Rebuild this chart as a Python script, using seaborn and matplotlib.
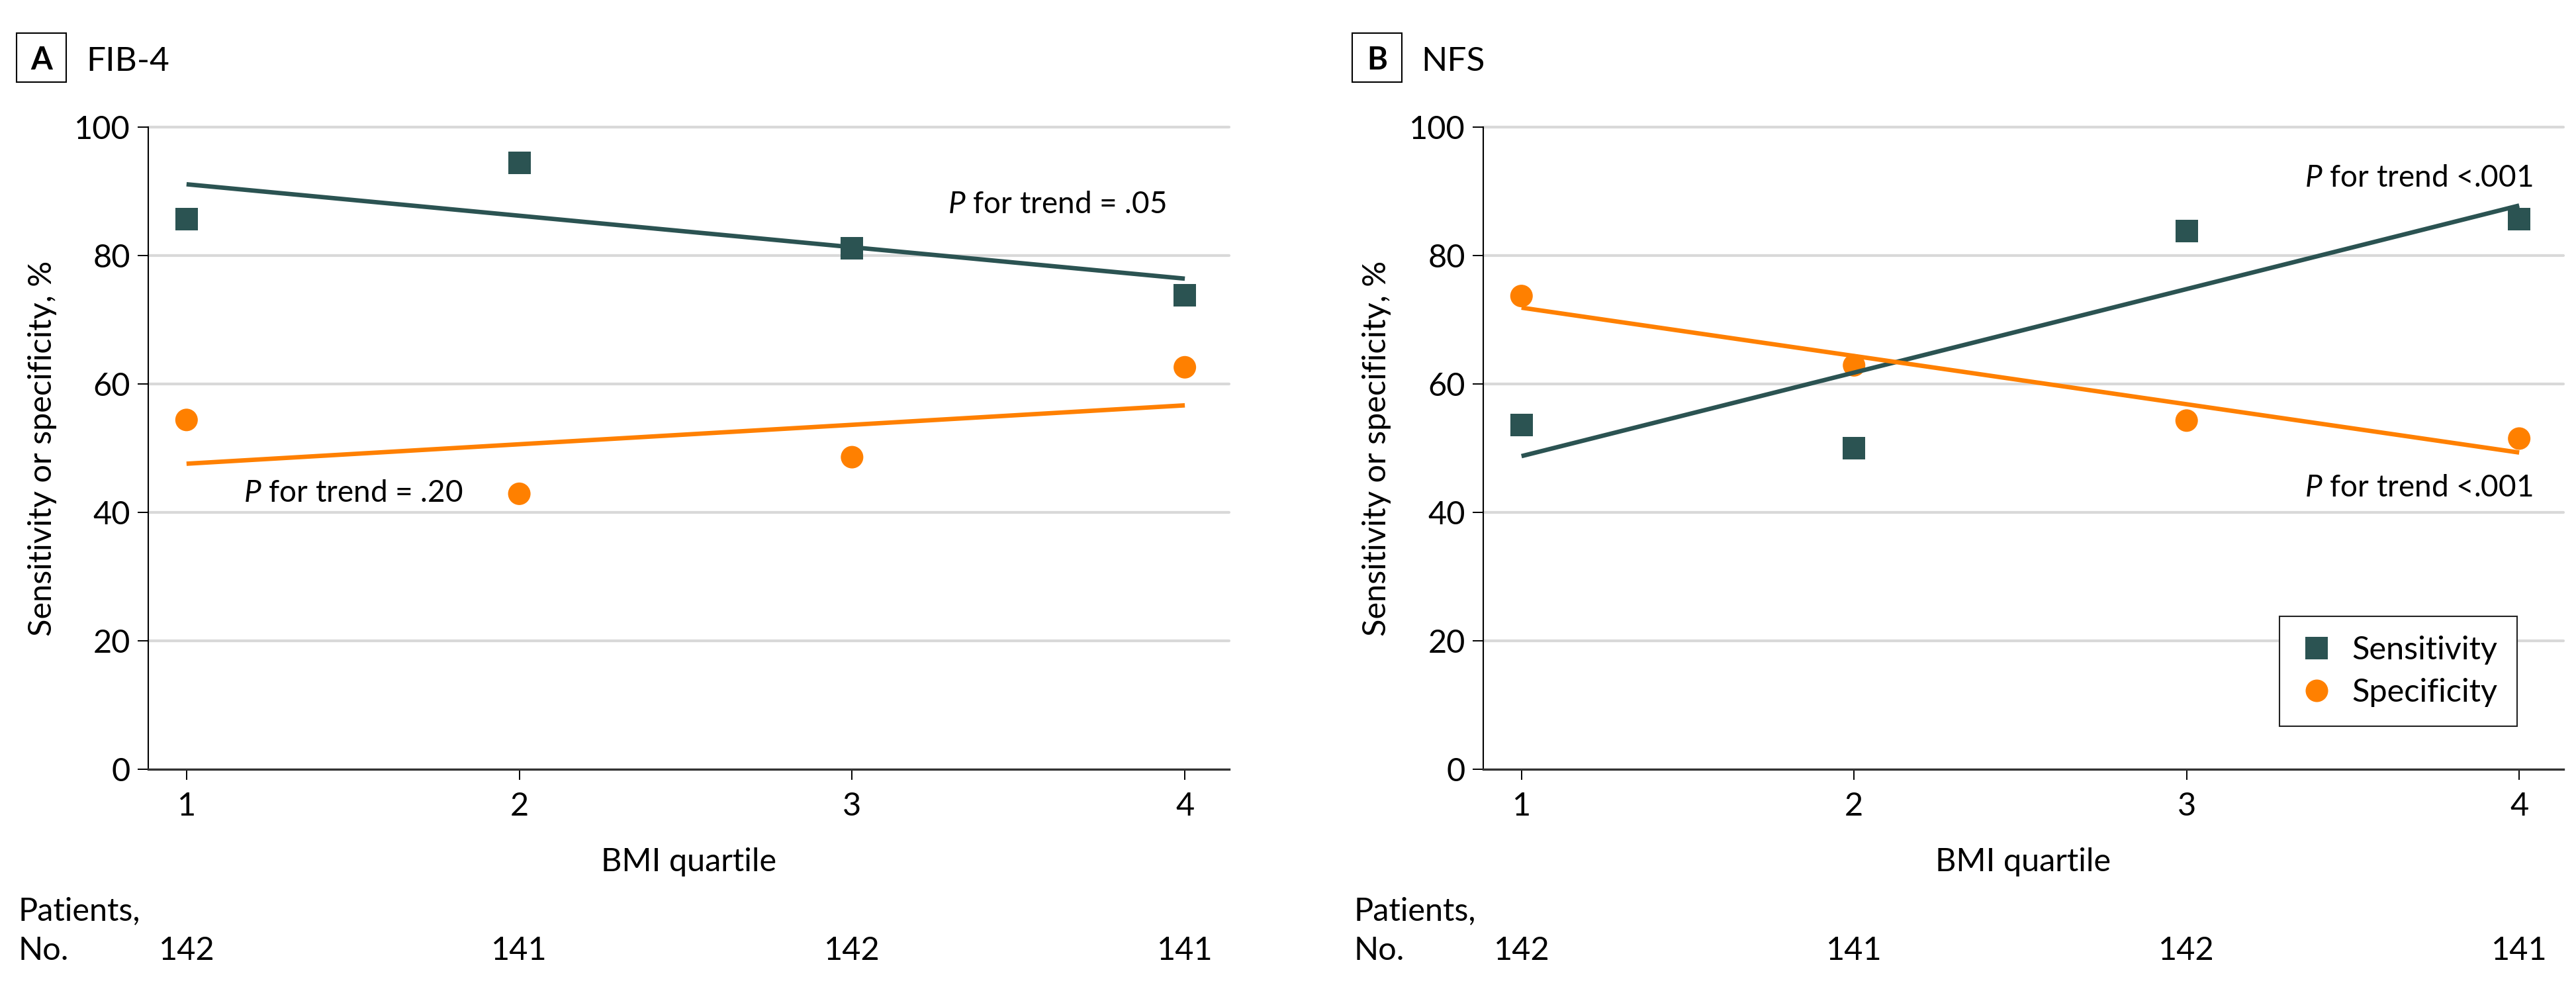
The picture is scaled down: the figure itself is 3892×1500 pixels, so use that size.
import numpy as np
import pandas as pd
import matplotlib
matplotlib.use("Agg")
import matplotlib.pyplot as plt
import seaborn as sns
from matplotlib.patches import Rectangle
from matplotlib.transforms import blended_transform_factory

# ---------------- data ----------------
quartiles = [1, 2, 3, 4]
patients = [142, 141, 142, 141]
fib4_sensitivity = [85.7, 94.4, 81.1, 73.8]
fib4_specificity = [54.4, 42.9, 48.6, 62.6]
nfs_sensitivity = [53.6, 50.0, 83.8, 85.7]
nfs_specificity = [73.7, 62.9, 54.3, 51.5]
panel_letters = ["A", "B"]
panel_titles = ["FIB-4", "NFS"]
y_ticks = [0, 20, 40, 60, 80, 100]
measures = ["Sensitivity", "Specificity"]
fib4_p_text = [r"$\mathit{P}$ for trend = .05", r"$\mathit{P}$ for trend = .20"]
nfs_p_text = [r"$\mathit{P}$ for trend <.001", r"$\mathit{P}$ for trend <.001"]

# ---------------- style ----------------
sns.set_theme(style="white")
plt.rcParams["font.family"] = ["Lato", "DejaVu Sans"]
plt.rcParams["mathtext.fontset"] = "custom"
plt.rcParams["mathtext.it"] = "Lato:italic"
plt.rcParams["mathtext.rm"] = "Lato"
for k in ["text.color", "axes.labelcolor", "xtick.color", "ytick.color"]:
    plt.rcParams[k] = "black"

TEAL = "#2B5352"
ORANGE = "#FF8000"
palette = {"Sensitivity": TEAL, "Specificity": ORANGE}
markers = {"Sensitivity": "s", "Specificity": "o"}

W, H = 3892, 1500
fig = plt.figure(figsize=(W / 100, H / 100), dpi=100)


def fx(px):
    return px / W


def fy(py):
    return 1 - py / H


top_px, bot_px = 192, 1162
axes_px = [(224, 1857), (2241, 3873)]
box_px = [25, 2043]
title_px = [130, 2147]
patients_px = [27, 2045]

panels = [
    (fib4_sensitivity, fib4_specificity, fib4_p_text,
     [(3.288, 86.6, "left"), (1.171, 41.65, "left")]),
    (nfs_sensitivity, nfs_specificity, nfs_p_text,
     [(4.04, 90.7, "right"), (4.04, 42.5, "right")]),
]

FS = 35

for i, (sens, spec, ptexts, ppos) in enumerate(panels):
    l, r = axes_px[i]
    ax = fig.add_axes([fx(l), fy(bot_px), (r - l) / W, (bot_px - top_px) / H])

    df = pd.DataFrame({
        "quartile": quartiles * 2,
        "value": list(sens) + list(spec),
        "measure": [measures[0]] * 4 + [measures[1]] * 4,
    })

    sns.scatterplot(data=df, x="quartile", y="value", hue="measure",
                    style="measure", palette=palette, markers=markers,
                    s=600, linewidth=0, ax=ax, legend=(i == 1), zorder=3)

    for m, vals in zip(measures, [sens, spec]):
        sns.regplot(x=np.array(quartiles, dtype=float), y=np.array(vals),
                    ax=ax, scatter=False, ci=None, truncate=True,
                    color=palette[m],
                    line_kws={"linewidth": 4.8, "solid_capstyle": "butt",
                              "zorder": 4})

    ax.set_xlim(0.885, 4.133)
    ax.set_ylim(0, 100)
    ax.set_xticks(quartiles)
    ax.set_yticks(y_ticks)
    ax.grid(False)
    for yt in y_ticks[1:]:
        ax.axhline(yt, color="#D9D9D9", lw=3.0, zorder=0, clip_on=False)

    sns.despine(ax=ax)
    ax.spines["left"].set_color("black")
    ax.spines["left"].set_linewidth(1.5)
    ax.spines["bottom"].set_color("#333333")
    ax.spines["bottom"].set_linewidth(2.4)
    ax.spines["bottom"].set_zorder(5)

    ax.tick_params(axis="both", bottom=True, left=True, direction="out",
                   length=11.5, width=1.4, color="black", labelsize=FS)
    ax.tick_params(axis="x", pad=13)
    ax.tick_params(axis="y", pad=8)

    ax.set_xlabel("BMI quartile", fontsize=FS)
    ax.xaxis.set_label_coords(0.5, (bot_px - 1280) / (bot_px - top_px))
    ax.set_ylabel("Sensitivity or specificity, %", fontsize=FS)
    ax.yaxis.label.set_va("center")
    ax.yaxis.set_label_coords((63.5 - 224) / (r - l), 0.5)

    for (px_, py_, ha), t in zip(ppos, ptexts):
        ax.text(px_, py_, t, fontsize=33, ha=ha, va="baseline", zorder=6)

    # panel letter box and title
    bx = box_px[i]
    fig.add_artist(Rectangle((fx(bx), fy(124)), 75 / W, 74 / H, fill=False,
                             lw=1.5, ec="black", transform=fig.transFigure))
    fig.text(fx(bx + 37.5), fy(105), panel_letters[i], ha="center",
             va="baseline", fontsize=34, fontweight="bold")
    fig.text(fx(title_px[i]), fy(107), panel_titles[i], ha="left",
             va="baseline", fontsize=37)

    # patients row
    fig.text(fx(patients_px[i]), fy(1390), "Patients,", ha="left",
             va="baseline", fontsize=FS)
    fig.text(fx(patients_px[i]), fy(1450), "No.", ha="left",
             va="baseline", fontsize=FS)
    tr = blended_transform_factory(ax.transData, fig.transFigure)
    for q, n in zip(quartiles, patients):
        ax.text(q, fy(1450), str(n), transform=tr, ha="center",
                va="baseline", fontsize=FS, clip_on=False)

    if i == 1:
        leg = ax.get_legend()
        handles = leg.legend_handles
        labels = [t.get_text() for t in leg.get_texts()]
        leg.remove()
        new = ax.legend(handles, labels, loc="upper right",
                        bbox_to_anchor=(fx(3803), fy(931)),
                        bbox_transform=fig.transFigure, borderaxespad=0,
                        fontsize=FS, frameon=True, fancybox=False,
                        framealpha=1, borderpad=0.6, labelspacing=0.4,
                        handlelength=1.1, handletextpad=0.55)
        new.get_frame().set_edgecolor("#222222")
        new.get_frame().set_linewidth(1.5)
        new.set_zorder(10)

fig.savefig("out.png", dpi=100, facecolor="white")
